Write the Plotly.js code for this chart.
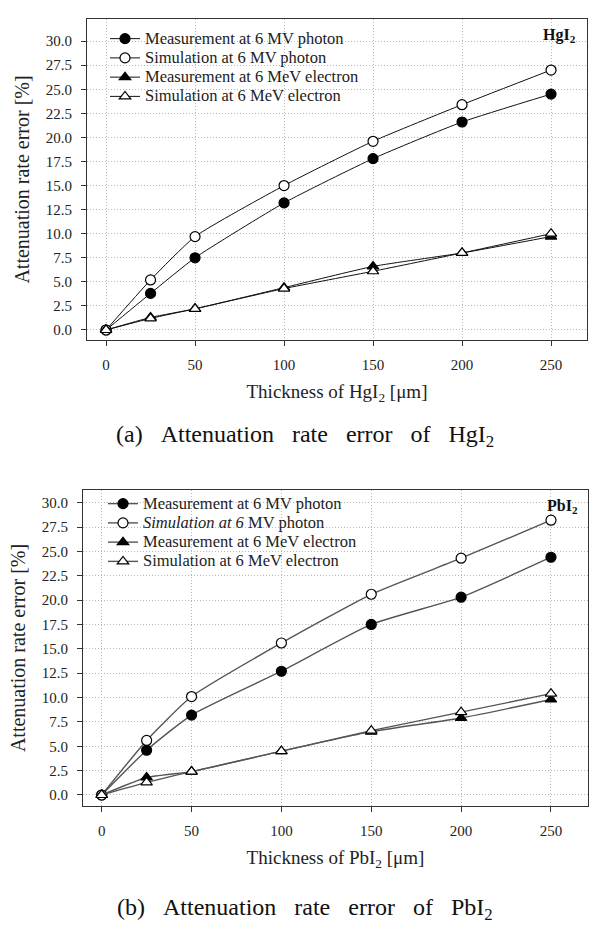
<!DOCTYPE html>
<html>
<head>
<meta charset="utf-8">
<script src="https://cdn.plot.ly/plotly-3.0.1.min.js"></script>
<style>html,body{margin:0;padding:0;background:#fff;}#chart{width:610px;height:931px;}</style>
</head>
<body>
<div id="chart"></div>
<script>
// Shared x values: thickness [μm]
const thickness = [0, 25, 50, 100, 150, 200, 250];
const xTicks = [0, 50, 100, 150, 200, 250];
const yTicks = [0, 2.5, 5, 7.5, 10, 12.5, 15, 17.5, 20, 22.5, 25, 27.5, 30];
const yTickText = ["0.0","2.5","5.0","7.5","10.0","12.5","15.0","17.5","20.0","22.5","25.0","27.5","30.0"];

const seriesNames = ["Measurement at 6 MV photon", "Simulation at 6 MV photon", "Measurement at 6 MeV electron", "Simulation at 6 MeV electron"];
const seriesNamesPb = ["Measurement at 6 MV photon", "<i>Simulation at 6</i> MV photon", "Measurement at 6 MeV electron", "Simulation at 6 MeV electron"];

// (a) HgI2
const hgMeasPhoton = [0, 3.8, 7.5, 13.2, 17.8, 21.6, 24.5];
const hgSimPhoton  = [0, 5.2, 9.7, 15.0, 19.6, 23.4, 27.0];
const hgMeasElec   = [0, 1.3, 2.2, 4.4, 6.6, 8.0, 9.7];
const hgSimElec    = [0, 1.2, 2.2, 4.3, 6.1, 8.0, 10.0];

// (b) PbI2
const pbMeasPhoton = [0, 4.6, 8.2, 12.7, 17.5, 20.3, 24.4];
const pbSimPhoton  = [0, 5.6, 10.1, 15.6, 20.6, 24.3, 28.2];
const pbMeasElec   = [0, 1.8, 2.4, 4.5, 6.5, 7.9, 9.8];
const pbSimElec    = [0, 1.3, 2.4, 4.5, 6.6, 8.5, 10.4];

const FONT = "Liberation Serif, Times New Roman, serif";
const symbols = ["circle", "circle-open", "triangle-up", "triangle-up-open"];

function legendLabel(s) {
  return '<span style="font-size:16.5px">' + s + '</span>';
}

function mk(y, i, names, xa, ya, leg, lineColor, lw) {
  const open = symbols[i].indexOf("open") >= 0;
  const tri = symbols[i].indexOf("triangle") >= 0;
  return {
    x: thickness, y: y, name: legendLabel(names[i]), type: "scatter", mode: "lines+markers",
    xaxis: xa, yaxis: ya, legend: leg,
    line: {color: lineColor, width: lw, shape: "spline", smoothing: 0.5},
    marker: {
      symbol: tri ? "triangle-up" : "circle",
      size: 10,
      color: open ? "#ffffff" : "#000000",
      line: {color: "#000000", width: 1.2}
    }
  };
}

const data = [];
[hgMeasPhoton, hgSimPhoton, hgMeasElec, hgSimElec].forEach((s, i) => data.push(mk(s, i, seriesNames, "x", "y", "legend", "#111", 1)));
[pbMeasPhoton, pbSimPhoton, pbMeasElec, pbSimElec].forEach((s, i) => data.push(mk(s, i, seriesNamesPb, "x2", "y2", "legend2", "#555", 1.4)));

const GRID = {showgrid: true, gridcolor: "#b8b8b8", griddash: "1px,2px", gridwidth: 1};

function xax(range, dom, anchor, title) {
  return Object.assign({
    domain: dom, anchor: anchor, range: range,
    tickmode: "array", tickvals: xTicks, ticktext: xTicks.map(String),
    ticks: "outside", ticklen: 5, tickcolor: "#333", ticklabelstandoff: 6,
    showline: true, linecolor: "#333", linewidth: 1, mirror: true,
    zeroline: false,
    tickfont: {family: FONT, size: 15, color: "#222"},
    title: {text: title, font: {family: FONT, size: 19, color: "#222"}, standoff: 12}
  }, GRID);
}
function yax(range, dom, anchor) {
  return Object.assign({
    domain: dom, anchor: anchor, range: range,
    tickmode: "array", tickvals: yTicks, ticktext: yTickText,
    ticks: "outside", ticklen: 5, tickcolor: "#333", ticklabelstandoff: 6,
    showline: true, linecolor: "#333", linewidth: 1, mirror: true,
    zeroline: false,
    tickfont: {family: FONT, size: 15, color: "#222"},
    title: {text: "Attenuation rate error [%]", font: {family: FONT, size: 20, color: "#222"}, standoff: 10}
  }, GRID);
}

const W = 610, H = 931;
const LEGFONT = {family: FONT, size: 12.5, color: "#222"};
const SP = "&nbsp;&nbsp;&nbsp;";
const layout = {
  width: W, height: H,
  margin: {l: 0, r: 0, t: 0, b: 0},
  paper_bgcolor: "#fff", plot_bgcolor: "#fff",
  showlegend: true,
  font: {family: FONT, color: "#222"},
  xaxis: xax([-10.7, 270.2], [87/W, 587/W], "y", "Thickness of HgI<sub>2</sub> [μm]"),
  yaxis: yax([-1.04, 32.3], [1 - 340/H, 1 - 19/H], "x"),
  xaxis2: xax([-10.4, 270.6], [83/W, 588/W], "y2", "Thickness of PbI<sub>2</sub> [μm]"),
  yaxis2: yax([-1.13, 31.3], [1 - 806/H, 1 - 490/H], "x2"),
  legend: {x: 105/W, y: 1 - 24/H, xanchor: "left", yanchor: "top", bgcolor: "rgba(0,0,0,0)",
           font: LEGFONT, tracegroupgap: 0, itemwidth: 30},
  legend2: {x: 103/W, y: 1 - 489/H, xanchor: "left", yanchor: "top", bgcolor: "rgba(0,0,0,0)",
           font: LEGFONT, tracegroupgap: 0, itemwidth: 30},
  annotations: [
    {text: "<b>HgI<sub>2</sub></b>", xref: "paper", yref: "paper", x: 578/W, y: 1 - 35/H, xanchor: "right", yanchor: "middle", showarrow: false, font: {family: FONT, size: 16, color: "#111"}},
    {text: "<b>PbI<sub>2</sub></b>", xref: "paper", yref: "paper", x: 580/W, y: 1 - 506/H, xanchor: "right", yanchor: "middle", showarrow: false, font: {family: FONT, size: 16, color: "#111"}},
    {text: "(a)" + SP + "Attenuation" + SP + "rate" + SP + "error" + SP + "of" + SP + "HgI<sub>2</sub>", xref: "paper", yref: "paper", x: 305/W, y: 1 - 436/H, xanchor: "center", yanchor: "middle", showarrow: false, font: {family: FONT, size: 24, color: "#111"}},
    {text: "(b)" + SP + "Attenuation" + SP + "rate" + SP + "error" + SP + "of" + SP + "PbI<sub>2</sub>", xref: "paper", yref: "paper", x: 305/W, y: 1 - 909/H, xanchor: "center", yanchor: "middle", showarrow: false, font: {family: FONT, size: 24, color: "#111"}}
  ]
};

Plotly.newPlot("chart", data, layout, {displayModeBar: false, staticPlot: true});
</script>
</body>
</html>
